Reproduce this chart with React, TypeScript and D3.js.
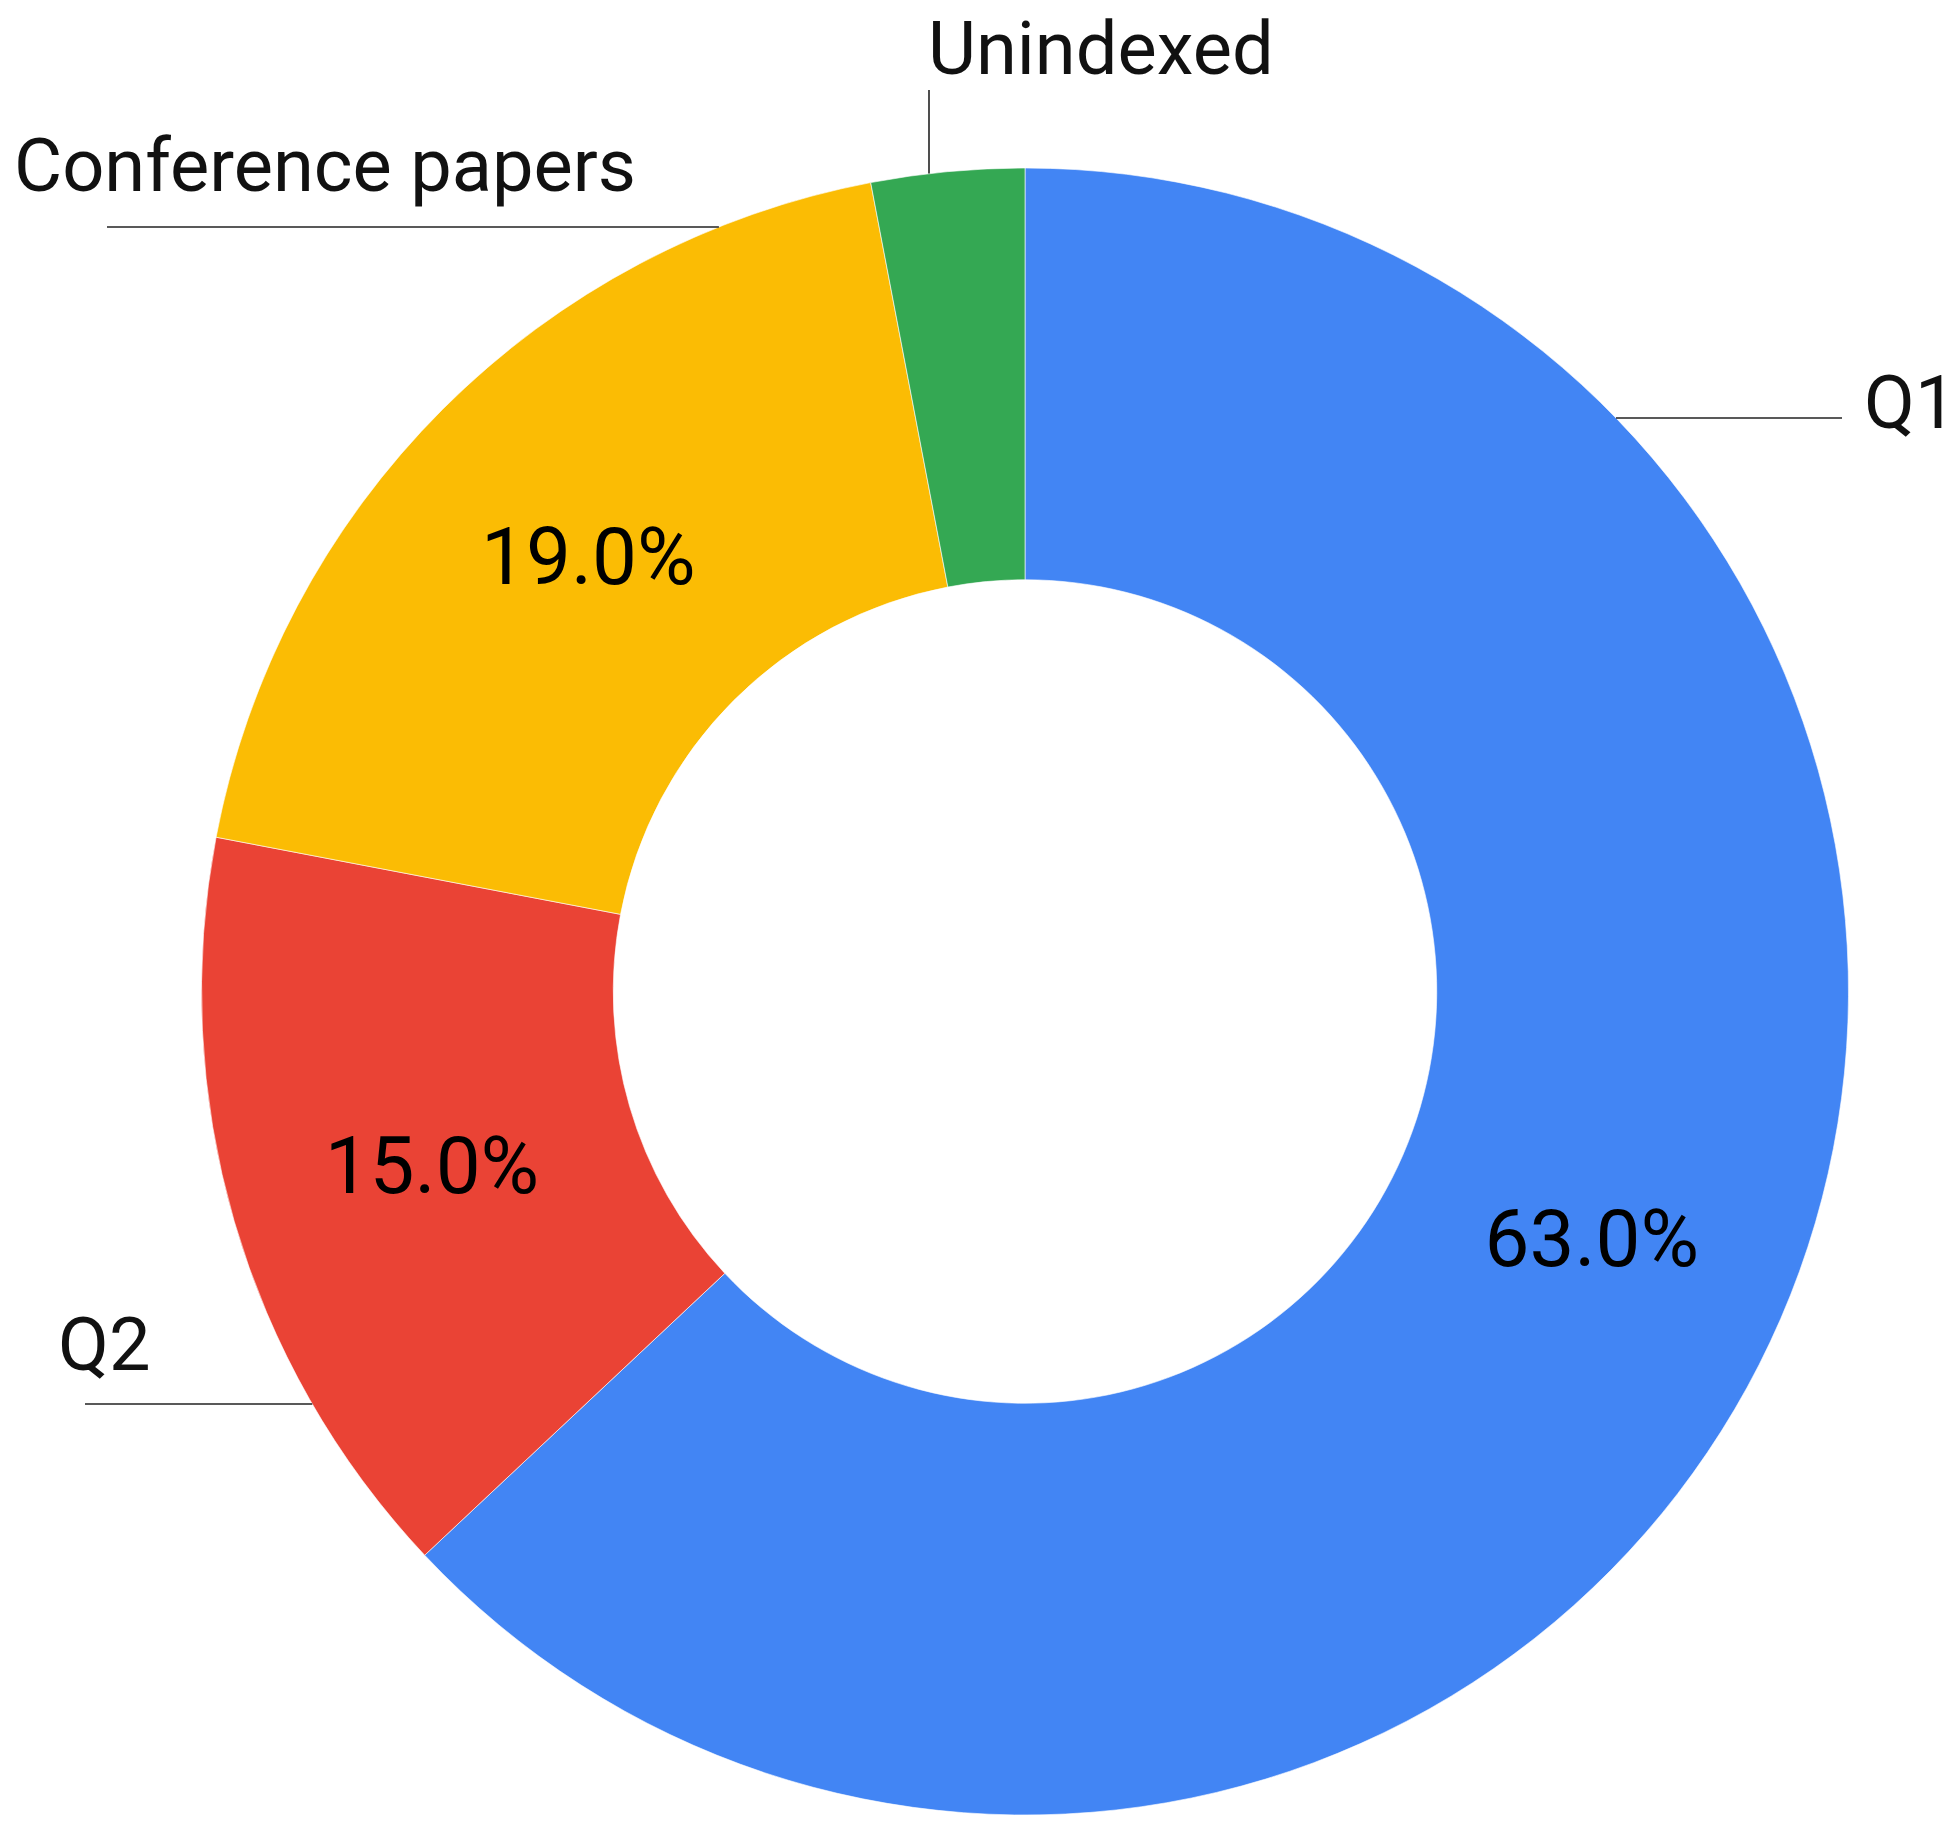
import React from "react";
import * as d3 from "d3";

const categories = ["Q1", "Q2", "Conference papers", "Unindexed"];
const values = [63, 15, 19, 3];
const colors = ["#4285F4", "#EA4335", "#FBBC04", "#34A853"];

const W = 1956;
const H = 1830;
const CX = 1025;
const CY = 991.5;
const R_OUT = 823.5;
const R_IN = 411.75;

type Callout = {
  kind: "h" | "v";
  pos: number; // y for horizontal leaders, x for vertical
  end: number; // far end of the leader
  tx: number;
  ty: number;
};

const callouts: Record<string, Callout> = {
  Q1: { kind: "h", pos: 418, end: 1842, tx: 1864, ty: 428 },
  Q2: { kind: "h", pos: 1404, end: 85, tx: 58, ty: 1370 },
  "Conference papers": { kind: "h", pos: 227, end: 107, tx: 14, ty: 191 },
  Unindexed: { kind: "v", pos: 929, end: 90, tx: 928, ty: 74 },
};

export default function App() {
  const data = categories.map((c, i) => ({ name: c, value: values[i], color: colors[i] }));
  const pie = d3
    .pie<any>()
    .sort(null)
    .value((d: any) => d.value);
  const arcs = pie(data);
  const arc = d3.arc<any>().innerRadius(R_IN).outerRadius(R_OUT);
  const labelArc = d3
    .arc<any>()
    .innerRadius((R_IN + R_OUT) / 2)
    .outerRadius((R_IN + R_OUT) / 2);
  const total = d3.sum(values);
  const fmt = d3.format(".1%");
  const font = "Roboto, 'Noto Sans', Arial, sans-serif";

  return (
    <div style={{ position: "absolute", left: 0, top: 0 }}>
      <svg width={W} height={H} style={{ display: "block", background: "#fff" }}>
        <g transform={`translate(${CX},${CY})`}>
          {arcs.map((a, i) => (
            <path key={i} d={arc(a) as string} fill={a.data.color} stroke="#ffffff" strokeWidth={1} strokeOpacity={0.6} />
          ))}
          {arcs.map((a, i) => {
            if (a.data.value / total < 0.05) return null;
            const [x, y] = labelArc.centroid(a);
            return (
              <text
                key={"p" + i}
                x={x}
                y={y + 29}
                textAnchor="middle"
                fontFamily={font}
                fontSize={80}
                fill="#000"
              >
                {fmt(a.data.value / total)}
              </text>
            );
          })}
        </g>
        {categories.map((c) => {
          const co = callouts[c];
          let x1: number, y1: number, x2: number, y2: number;
          if (co.kind === "h") {
            const dy = co.pos - CY;
            const dx = Math.sqrt(R_OUT * R_OUT - dy * dy);
            x1 = co.end > CX ? CX + dx : CX - dx;
            y1 = co.pos;
            x2 = co.end;
            y2 = co.pos;
          } else {
            const dx = co.pos - CX;
            const dy = Math.sqrt(R_OUT * R_OUT - dx * dx);
            x1 = co.pos;
            y1 = CY - dy;
            x2 = co.pos;
            y2 = co.end;
          }
          return (
            <g key={c}>
              <line x1={x1} y1={y1} x2={x2} y2={y2} stroke="#222" strokeWidth={1.6} />
              <text x={co.tx} y={co.ty} fontFamily={font} fontSize={74} fill="#111">
                {c}
              </text>
            </g>
          );
        })}
      </svg>
    </div>
  );
}
